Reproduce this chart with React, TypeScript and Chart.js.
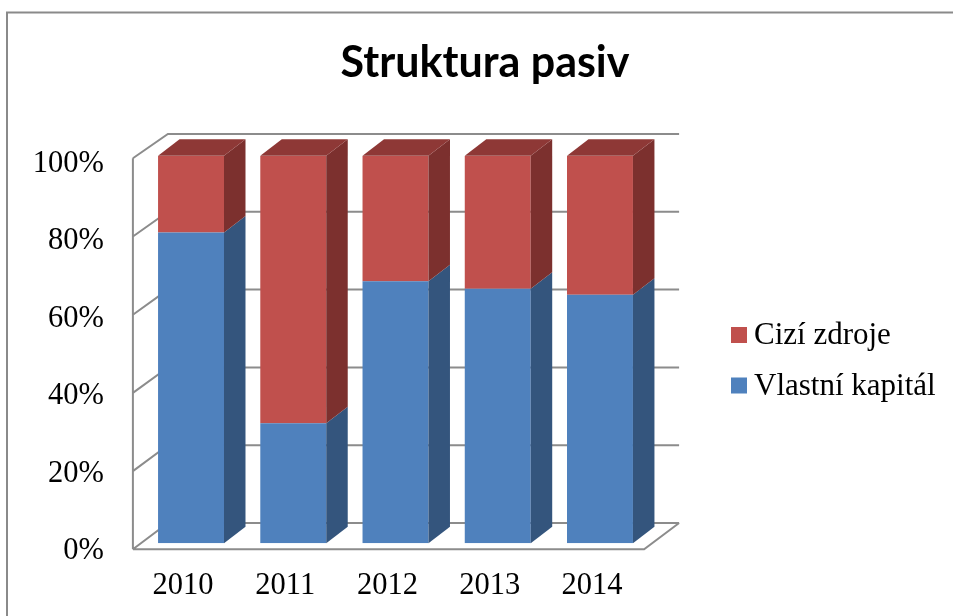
import React, { useEffect, useRef } from "react";
import { Chart, registerables } from "chart.js";

Chart.register(...registerables);

// ---- data ----
const categories = ["2010", "2011", "2012", "2013", "2014"];
const vlastniKapital = [80.2, 31.0, 67.6, 65.7, 64.1];
const ciziZdroje = [19.8, 69.0, 32.4, 34.3, 35.9];
const seriesNames = ["Vlastní kapitál", "Cizí zdroje"];
const titleText = "Struktura pasiv";

// ---- styles ----
const SERIF = "'Liberation Serif','Times New Roman',serif";
const frontColors = ["#4F81BD", "#C0504D"];
const sideColors = ["#34557D", "#7C302E"];
const topColors = ["#3E6496", "#8E3836"];
const FRAME = "#8c8c8c";
const BAR_DX = 21.5;
const BAR_DY = -16.5;

const frame3d = {
  id: "frame3d",
  beforeDatasetsDraw(chart: any) {
    const { ctx, chartArea } = chart;
    const L = chartArea.left;
    const R = chartArea.right;
    const ys = chart.scales.y;
    const fy = (v: number) => ys.getPixelForValue(v) + 6 - (3.4 * v) / 100;
    const by = (v: number) => ys.getPixelForValue(v) - 20.3 - (1.4 * v) / 100;
    const values: number[] = ys.ticks.map((t: any) => t.value);
    ctx.save();
    ctx.strokeStyle = FRAME;
    ctx.lineWidth = 2;
    ctx.beginPath();
    values.forEach((v) => {
      ctx.moveTo(L - 7, fy(v));
      ctx.lineTo(L + 28, by(v));
      ctx.lineTo(R + 28, by(v));
    });
    ctx.moveTo(L - 7, fy(ys.min));
    ctx.lineTo(L - 7, fy(ys.max));
    ctx.moveTo(L - 7, fy(ys.min));
    ctx.lineTo(R - 7, fy(ys.min));
    ctx.lineTo(R + 28, by(ys.min));
    ctx.stroke();
    ctx.restore();
  },
};

const bars3d = {
  id: "bars3d",
  afterDatasetsDraw(chart: any) {
    const ctx = chart.ctx;
    const n = chart.data.datasets.length;
    ctx.save();
    chart.data.datasets.forEach((_ds: any, i: number) => {
      const meta = chart.getDatasetMeta(i);
      meta.data.forEach((el: any) => {
        const { x, y, base, width } = el.getProps(["x", "y", "base", "width"], true);
        const xl = x - width / 2;
        const xr = x + width / 2;
        ctx.fillStyle = sideColors[i];
        ctx.beginPath();
        ctx.moveTo(xr, y);
        ctx.lineTo(xr + BAR_DX, y + BAR_DY);
        ctx.lineTo(xr + BAR_DX, base + BAR_DY);
        ctx.lineTo(xr, base);
        ctx.closePath();
        ctx.fill();
        if (i === n - 1) {
          ctx.fillStyle = topColors[i];
          ctx.beginPath();
          ctx.moveTo(xl, y);
          ctx.lineTo(xl + BAR_DX, y + BAR_DY);
          ctx.lineTo(xr + BAR_DX, y + BAR_DY);
          ctx.lineTo(xr, y);
          ctx.closePath();
          ctx.fill();
        }
      });
    });
    ctx.restore();
  },
};

const decor = {
  id: "decor",
  afterDraw(chart: any) {
    const { ctx, width, height } = chart;
    ctx.save();
    // outer border
    ctx.strokeStyle = "#8a8a8a";
    ctx.lineWidth = 2;
    ctx.beginPath();
    ctx.moveTo(7, height);
    ctx.lineTo(7, 12.5);
    ctx.lineTo(width, 12.5);
    ctx.stroke();
    // title
    ctx.fillStyle = "#000";
    ctx.font = "bold 43px Lato, 'Open Sans', sans-serif";
    ctx.textAlign = "center";
    ctx.textBaseline = "alphabetic";
    ctx.fillText(titleText, 485, 77);
    // legend (reverse order)
    ctx.font = `31px ${SERIF}`;
    ctx.textAlign = "left";
    ctx.textBaseline = "middle";
    const ds = chart.data.datasets;
    for (let k = 0; k < ds.length; k++) {
      const i = ds.length - 1 - k;
      const cy = 335 + k * 50.5;
      ctx.fillStyle = ds[i].backgroundColor;
      ctx.fillRect(731, cy - 8, 16, 16);
      ctx.fillStyle = "#000";
      ctx.fillText(ds[i].label, 754, cy + 1);
    }
    ctx.restore();
  },
};

export default function App() {
  const ref = useRef<HTMLCanvasElement | null>(null);
  useEffect(() => {
    if (!ref.current) return;
    const chart = new Chart(ref.current, {
      type: "bar",
      data: {
        labels: categories,
        datasets: [
          {
            label: seriesNames[0],
            data: vlastniKapital,
            backgroundColor: frontColors[0],
            borderWidth: 0,
            barPercentage: 0.645,
            categoryPercentage: 1,
          },
          {
            label: seriesNames[1],
            data: ciziZdroje,
            backgroundColor: frontColors[1],
            borderWidth: 0,
            barPercentage: 0.645,
            categoryPercentage: 1,
          },
        ],
      },
      options: {
        responsive: false,
        animation: false,
        layout: { padding: { left: 0, top: 155.7, right: 301.9, bottom: 0 } },
        plugins: {
          legend: { display: false },
          title: { display: false },
          tooltip: { enabled: false },
        },
        scales: {
          x: {
            stacked: true,
            grid: { display: false, drawTicks: false },
            border: { display: false },
            ticks: {
              color: "#000",
              font: { family: SERIF, size: 30.5 },
              padding: 24,
              labelOffset: -8,
            },
            afterFit: (s: any) => {
              s.height = 72.7;
            },
          },
          y: {
            stacked: true,
            min: 0,
            max: 100,
            grid: { display: false, drawTicks: false },
            border: { display: false },
            ticks: {
              stepSize: 20,
              color: "#000",
              font: { family: SERIF, size: 30.5 },
              padding: 36,
              labelOffset: 8,
              callback: (v: any) => v + "%",
            },
            afterFit: (s: any) => {
              s.width = 139.9;
            },
          },
        },
      },
      plugins: [frame3d, bars3d, decor],
    });
    return () => chart.destroy();
  }, []);
  return (
    <div style={{ position: "fixed", left: 0, top: 0, width: 953, height: 616, background: "#fff" }}>
      <canvas ref={ref} width={953} height={616} style={{ display: "block" }} />
    </div>
  );
}
